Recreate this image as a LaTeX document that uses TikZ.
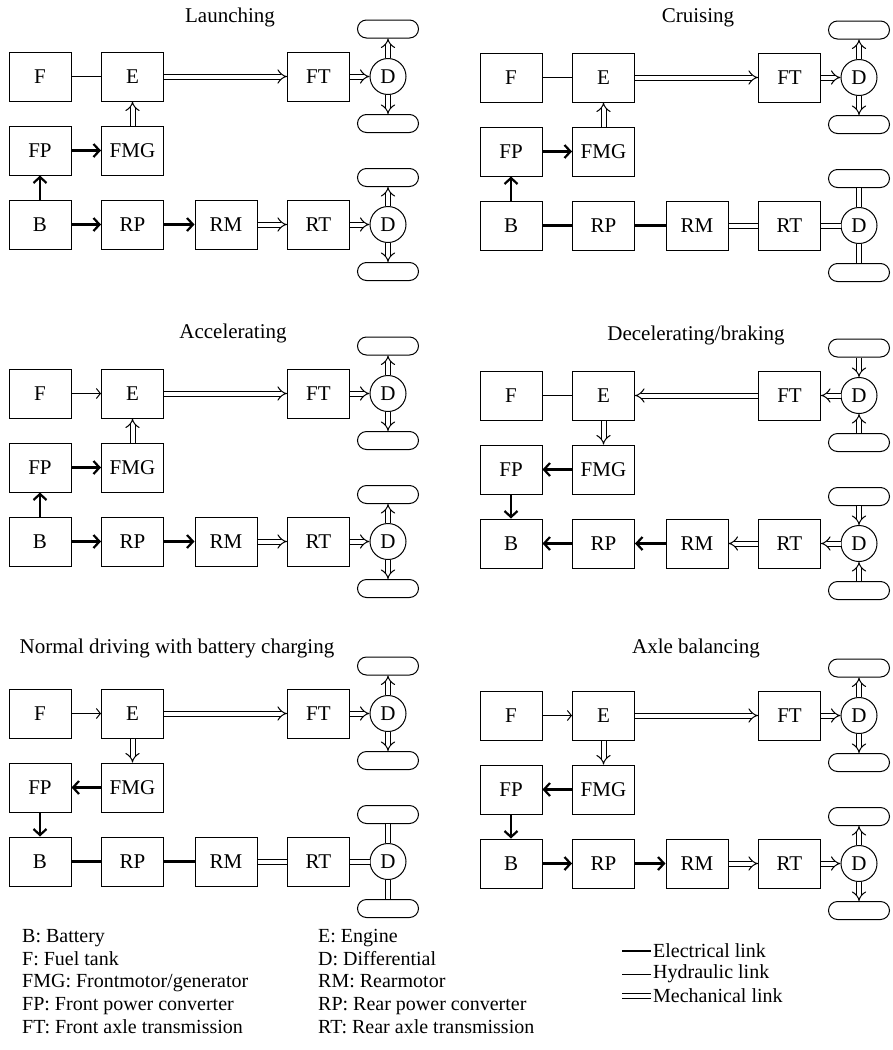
\documentclass[tikz,border=0pt]{standalone}
\usepackage{fontspec}
\setmainfont{Liberation Serif}
\usetikzlibrary{arrows.meta,positioning}
\tikzset{
  unit/.style={
    draw,
    line width=1pt,
    minimum width=62pt,
    minimum height=49pt,
    inner sep=0pt,
    font=\fontsize{21}{24}\selectfont
  },
  diff/.style={
    draw,
    circle,
    line width=1pt,
    minimum size=36pt,
    inner sep=0pt,
    font=\fontsize{21}{24}\selectfont
  },
  wheel/.style={
    draw,
    rounded corners=9pt,
    line width=1pt,
    minimum width=61pt,
    minimum height=18pt,
    inner sep=0pt
  },
  modetitle/.style={font=\fontsize{21}{24}\selectfont},
  keytext/.style={align=left, inner sep=0pt, font=\fontsize{20}{22.7}\selectfont},
  elec/.style={line width=2.2pt},
  elecarr/.style={elec, -{Straight Barb[length=6pt,width=13pt,line width=2.2pt]}},
  hydr/.style={line width=1pt},
  hydrarr/.style={hydr, -{Straight Barb[length=4pt,width=10pt]}},
  mech/.style={double, double distance=4pt, line width=1pt},
  mecharr/.style={mech, -{Implies[length=6pt,width=14pt]}}
}

% one operating mode: blocks, differentials and wheels
\newcommand{\drivepanel}[6]{%
  \begin{scope}[shift={(#2,#3)}]
    \node[modetitle] (#1title) at (#5,#6) {#4};
    \node[unit] (#1F) at (40,76.5) {F};
    \node[unit] (#1E) at (132.5,76.5) {E};
    \node[unit] (#1FT) at (318.5,76.5) {FT};
    \node[diff] (#1Df) at (388,76.5) {D};
    \node[wheel] (#1Wf1) at (388,29) {};
    \node[wheel] (#1Wf2) at (388,123.5) {};
    \node[unit] (#1FP) at (40,150.5) {FP};
    \node[unit] (#1FMG) at (132.5,150.5) {FMG};
    \node[unit] (#1B) at (40,224.5) {B};
    \node[unit] (#1RP) at (132.5,224.5) {RP};
    \node[unit] (#1RM) at (226,224.5) {RM};
    \node[unit] (#1RT) at (318.5,224.5) {RT};
    \node[diff] (#1Dr) at (388,224.5) {D};
    \node[wheel] (#1Wr1) at (388,177.5) {};
    \node[wheel] (#1Wr2) at (388,271.5) {};
  \end{scope}
}

\begin{document}
\begin{tikzpicture}[x=1pt, y=-1pt]
  \useasboundingbox (0,0) rectangle (892,1050);

  % Launching
  \drivepanel{la}{0}{0}{Launching}{230}{17}
  \draw[hydr] (laF) -- (laE);
  \draw[mecharr] (laE) -- (laFT);
  \draw[mecharr] (laFT) -- (laDf);
  \draw[mecharr] (laDf) -- (laWf1);
  \draw[mecharr] (laDf) -- (laWf2);
  \draw[mecharr] (laFMG) -- (laE);
  \draw[elecarr] (laFP) -- (laFMG);
  \draw[elecarr] (laB) -- (laFP);
  \draw[elecarr] (laB) -- (laRP);
  \draw[elecarr] (laRP) -- (laRM);
  \draw[mecharr] (laRM) -- (laRT);
  \draw[mecharr] (laRT) -- (laDr);
  \draw[mecharr] (laDr) -- (laWr1);
  \draw[mecharr] (laDr) -- (laWr2);

  % Cruising
  \drivepanel{cr}{471}{1}{Cruising}{227}{17}
  \draw[hydr] (crF) -- (crE);
  \draw[mecharr] (crE) -- (crFT);
  \draw[mecharr] (crFT) -- (crDf);
  \draw[mecharr] (crDf) -- (crWf1);
  \draw[mecharr] (crDf) -- (crWf2);
  \draw[mecharr] (crFMG) -- (crE);
  \draw[elecarr] (crFP) -- (crFMG);
  \draw[elecarr] (crB) -- (crFP);
  \draw[elec] (crB) -- (crRP);
  \draw[elec] (crRP) -- (crRM);
  \draw[mech] (crRM) -- (crRT);
  \draw[mech] (crRT) -- (crDr);
  \draw[mech] (crDr) -- (crWr1);
  \draw[mech] (crDr) -- (crWr2);

  % Accelerating
  \drivepanel{ac}{0}{317}{Accelerating}{233}{16}
  \draw[hydrarr] (acF) -- (acE);
  \draw[mecharr] (acE) -- (acFT);
  \draw[mecharr] (acFT) -- (acDf);
  \draw[mecharr] (acDf) -- (acWf1);
  \draw[mecharr] (acDf) -- (acWf2);
  \draw[mecharr] (acFMG) -- (acE);
  \draw[elecarr] (acFP) -- (acFMG);
  \draw[elecarr] (acB) -- (acFP);
  \draw[elecarr] (acB) -- (acRP);
  \draw[elecarr] (acRP) -- (acRM);
  \draw[mecharr] (acRM) -- (acRT);
  \draw[mecharr] (acRT) -- (acDr);
  \draw[mecharr] (acDr) -- (acWr1);
  \draw[mecharr] (acDr) -- (acWr2);

  % Decelerating/braking
  \drivepanel{de}{471}{319}{Decelerating/braking}{225}{16}
  \draw[hydr] (deF) -- (deE);
  \draw[mecharr] (deFT) -- (deE);
  \draw[mecharr] (deDf) -- (deFT);
  \draw[mecharr] (deWf1) -- (deDf);
  \draw[mecharr] (deWf2) -- (deDf);
  \draw[mecharr] (deE) -- (deFMG);
  \draw[elecarr] (deFMG) -- (deFP);
  \draw[elecarr] (deFP) -- (deB);
  \draw[elecarr] (deRP) -- (deB);
  \draw[elecarr] (deRM) -- (deRP);
  \draw[mecharr] (deRT) -- (deRM);
  \draw[mecharr] (deDr) -- (deRT);
  \draw[mecharr] (deWr1) -- (deDr);
  \draw[mecharr] (deWr2) -- (deDr);

  % Normal driving with battery charging
  \drivepanel{nd}{0}{637}{Normal driving with battery charging}{177}{11}
  \draw[hydrarr] (ndF) -- (ndE);
  \draw[mecharr] (ndE) -- (ndFT);
  \draw[mecharr] (ndFT) -- (ndDf);
  \draw[mecharr] (ndDf) -- (ndWf1);
  \draw[mecharr] (ndDf) -- (ndWf2);
  \draw[mecharr] (ndE) -- (ndFMG);
  \draw[elecarr] (ndFMG) -- (ndFP);
  \draw[elecarr] (ndFP) -- (ndB);
  \draw[elec] (ndB) -- (ndRP);
  \draw[elec] (ndRP) -- (ndRM);
  \draw[mech] (ndRM) -- (ndRT);
  \draw[mech] (ndRT) -- (ndDr);
  \draw[mech] (ndDr) -- (ndWr1);
  \draw[mech] (ndDr) -- (ndWr2);

  % Axle balancing
  \drivepanel{ab}{471}{639}{Axle balancing}{225}{9}
  \draw[hydrarr] (abF) -- (abE);
  \draw[mecharr] (abE) -- (abFT);
  \draw[mecharr] (abFT) -- (abDf);
  \draw[mecharr] (abDf) -- (abWf1);
  \draw[mecharr] (abDf) -- (abWf2);
  \draw[mecharr] (abE) -- (abFMG);
  \draw[elecarr] (abFMG) -- (abFP);
  \draw[elecarr] (abFP) -- (abB);
  \draw[elecarr] (abB) -- (abRP);
  \draw[elecarr] (abRP) -- (abRM);
  \draw[mecharr] (abRM) -- (abRT);
  \draw[mecharr] (abRT) -- (abDr);
  \draw[mecharr] (abDr) -- (abWr1);
  \draw[mecharr] (abDr) -- (abWr2);

  % key
  \node[keytext, anchor=north west] (keyA) at (22,929)
    {B: Battery\\F: Fuel tank\\FMG: Frontmotor/generator\\FP: Front power converter\\FT: Front axle transmission};
  \node[keytext, anchor=north west] (keyB) at (318,929)
    {E: Engine\\D: Differential\\RM: Rearmotor\\RP: Rear power converter\\RT: Rear axle transmission};
  \coordinate (keyEs) at (622,951);
  \coordinate (keyHs) at (622,974);
  \coordinate (keyMs) at (622,996);
  \node[keytext, anchor=west] (keyE) at (653,951) {Electrical link};
  \node[keytext, anchor=west] (keyH) at (653,974) {Hydraulic link};
  \node[keytext, anchor=west] (keyM) at (653,996) {Mechanical link};
  \draw[elec] (keyEs) -- ([xshift=-2pt]keyE.west);
  \draw[hydr] (keyHs) -- ([xshift=-2pt]keyH.west);
  \draw[mech] (keyMs) -- ([xshift=-2pt]keyM.west);
\end{tikzpicture}
\end{document}
